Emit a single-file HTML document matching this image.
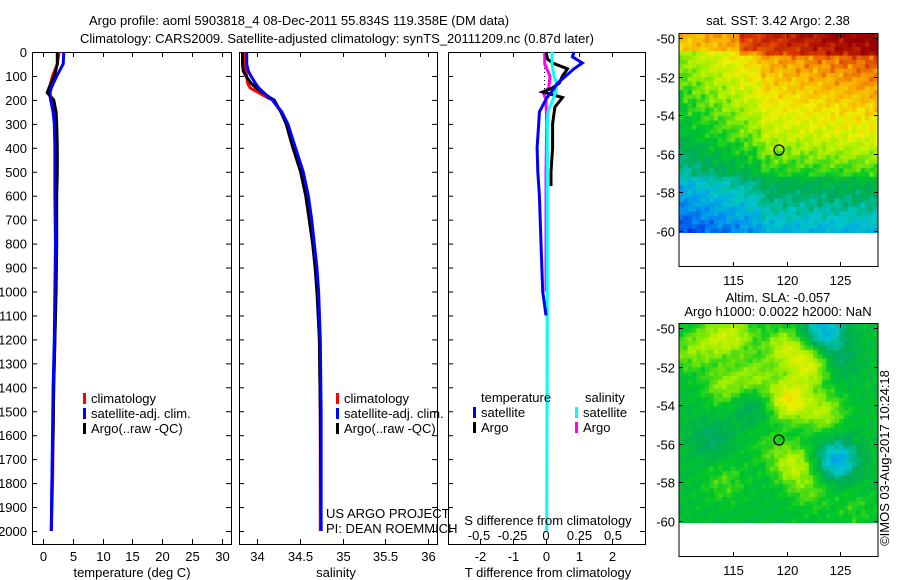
<!DOCTYPE html>
<html><head><meta charset="utf-8"><style>
html,body{margin:0;padding:0;background:#fff;}
#root{position:relative;width:900px;height:580px;overflow:hidden;font-family:"Liberation Sans",sans-serif;}
svg text{font-family:"Liberation Sans",sans-serif;font-size:13px;fill:#000;}
canvas{position:absolute;}
</style></head><body>
<div id="root">
<svg id="chart" width="900" height="580" style="position:absolute;left:0;top:0"></svg>
<canvas id="map1" width="199" height="199" style="left:679px;top:34px"></canvas>
<canvas id="map2" width="199" height="199" style="left:679px;top:324px"></canvas>
<svg id="overlay" width="900" height="580" style="position:absolute;left:0;top:0"></svg>
</div>
<script>
// ---- data ----
const depthT = [0,50,100,150,170,200,250,300,400,500,600,800,1000,1200,1400,1600,1800,2000];
const tempClim = [2.7,2.4,1.6,1.1,1.0,1.3,1.8,2.1,2.2,2.2,2.2,2.2,2.1,2.0,1.8,1.7,1.6,1.4];
const tempSat = [3.5,3.4,2.3,1.4,1.2,1.3,1.7,1.9,2.0,2.0,2.0,2.1,2.0,1.9,1.7,1.6,1.5,1.4];
const tempArgo = [2.4,2.4,1.9,1.0,0.7,1.8,2.2,2.3,2.4,2.4,2.3,2.3,2.2,2.0,1.8,1.7,1.5,1.4];
const depthS = [0,50,80,100,130,150,170,190,200,250,300,400,500,600,700,800,900,1000,1200,1500,2000];
const salClim = [33.86,33.86,33.87,33.88,33.89,33.92,34.02,34.12,34.18,34.28,34.35,34.44,34.53,34.59,34.63,34.66,34.69,34.71,34.73,34.74,34.74];
const salSat = [33.88,33.88,33.90,33.93,33.98,34.02,34.08,34.14,34.18,34.29,34.36,34.45,34.54,34.60,34.64,34.67,34.70,34.72,34.74,34.75,34.75];
const salArgo = [33.83,33.83,33.84,33.87,33.93,33.99,34.07,34.15,34.20,34.28,34.34,34.42,34.51,34.57,34.61,34.65,34.68,34.70,34.73,34.74,34.75];
const depthTD = [0,20,46,70,88,100,130,150,170,190,210,250,300,400,500,600,800,1000,1100];
const tdSat = [0.85,0.8,1.1,0.85,0.7,0.6,0.35,0.25,0.15,0.03,-0.05,-0.2,-0.22,-0.27,-0.25,-0.2,-0.15,-0.1,0];
const depthTDA = [0,30,46,70,100,130,150,167,190,230,300,400,500,560];
const tdArgo = [0,0.05,0.2,0.65,0.5,0.4,0.2,-0.1,0.5,0.27,0.2,0.2,0.15,0.15];
const depthSD = [0,50,100,130,170,200,250,300,500,1000,2000];
const sdSat = [0.045,0.045,0.06,0.08,0.07,0.05,0.015,0.01,0.01,0.01,0.005];
const depthSDA = [0,50,100,150,170,200,300,500,1000];
const sdArgo = [-0.01,-0.01,0.03,0.02,-0.02,0.0,0.005,0.0,0.0];
const depthTicks = [0,100,200,300,400,500,600,700,800,900,1000,1100,1200,1300,1400,1500,1600,1700,1800,1900,2000];
const tempTicks = [0,5,10,15,20,25,30];
const salTicks = [34,34.5,35,35.5,36];
const tdTicks = [-2,-1,0,1,2];
const sdTicks = [-0.5,-0.25,0,0.25,0.5];
const sdTickLabels = ["-0.5","-0.25","0","0.25","0.5"];

const NS='http://www.w3.org/2000/svg';
const svg=document.getElementById('chart');
function el(tag,attrs,parent,text){const e=document.createElementNS(NS,tag);for(const k in attrs)e.setAttribute(k,attrs[k]);if(text!==undefined)e.textContent=text;(parent||svg).appendChild(e);return e;}
const TOP=52,BOT=544;
const yD=d=>TOP+0.2395*d;
const P1={l:32,r:231},P2={l:239,r:437},P3={l:448,r:645};
const xT=v=>43+5.95*v;
const xS=v=>257+85.5*(v-34);
const xTD=v=>546+33*v;
const xSD=v=>546+134*v;

function frame(P,name){
  const g=el('g',{});
  
  
  el('rect',{x:P.l+.5,y:TOP+.5,width:P.r-P.l,height:BOT-TOP,fill:'none',stroke:'#000','stroke-width':1},g);
  depthTicks.forEach(d=>{const y=yD(d)+.5;
    el('line',{x1:P.l,x2:P.l+5,y1:y,y2:y,stroke:'#000'},g);
    el('line',{x1:P.r-5,x2:P.r,y1:y,y2:y,stroke:'#000'},g);});
  return g;
}
function xticks(g,ticks,fx,P,labels,ly){
  ticks.forEach((t,i)=>{const x=Math.round(fx(t))+.5;
    el('line',{x1:x,x2:x,y1:BOT-5,y2:BOT,stroke:'#000'},g);
    el('line',{x1:x,x2:x,y1:TOP,y2:TOP+5,stroke:'#000'},g);
    if(labels){const tx=el('text',{x:x,y:ly,'text-anchor':'middle'},g,labels[i]);
      
      }
  });
}
function line(xs,ds,fx,color,name,w){
  const pts=xs.map((v,i)=>fx(v).toFixed(1)+','+yD(ds[i]).toFixed(1)).join(' ');
  const p=el('polyline',{points:pts,fill:'none',stroke:color,'stroke-width':w||3,'stroke-linejoin':'miter'});
  
  
}
function legend(x,y,items){
  items.forEach((it,i)=>{
    const r=el('rect',{x:x,y:y+i*15-10,width:3,height:11,fill:it[0]});
    
    
    const t=el('text',{x:x+8,y:y+i*15},svg,it[1]);
    
    
  });
}
// titles
let t=el('text',{x:299,y:25,'text-anchor':'middle','font-size':'15'},svg,'Argo profile: aoml 5903818_4 08-Dec-2011 55.834S 119.358E (DM data)');


t=el('text',{x:337,y:43,'text-anchor':'middle','font-size':'15'},svg,'Climatology: CARS2009. Satellite-adjusted climatology: synTS_20111209.nc (0.87d later)');


// depth labels
depthTicks.forEach(d=>{const tx=el('text',{x:27,y:yD(d)+5,'text-anchor':'end'},svg,String(d));
  
  });
// panel 1
let g=frame(P1,'temperature-panel');
xticks(g,tempTicks,xT,P1,tempTicks.map(String),561);
line(tempClim,depthT,xT,'#f00','temp-climatology-line');
line(tempArgo,depthT,xT,'#000','temp-argo-line');
line(tempSat,depthT,xT,'#00f','temp-satellite-line');
t=el('text',{x:132,y:577,'text-anchor':'middle'},svg,'temperature (deg C)');


legend(83,403,[['#f00','climatology'],['#00f','satellite-adj. clim.'],['#000','Argo(..raw -QC)']]);
// panel 2
g=frame(P2,'salinity-panel');
xticks(g,salTicks,xS,P2,salTicks.map(String),561);
line(salClim,depthS,xS,'#f00','sal-climatology-line');
line(salArgo,depthS,xS,'#000','sal-argo-line');
line(salSat,depthS,xS,'#00f','sal-satellite-line');
t=el('text',{x:336,y:577,'text-anchor':'middle'},svg,'salinity');


legend(336,403,[['#f00','climatology'],['#00f','satellite-adj. clim.'],['#000','Argo(..raw -QC)']]);
t=el('text',{x:326,y:518},svg,'US ARGO PROJECT');


t=el('text',{x:326,y:533},svg,'PI: DEAN ROEMMICH');


// panel 3
g=frame(P3,'difference-panel');
xticks(g,tdTicks,xTD,P3,tdTicks.map(String),561);
sdTicks.forEach((v,i)=>{const tx=el('text',{x:xSD(v),y:540,'text-anchor':'middle'},svg,sdTickLabels[i]);
  
  });
el('line',{x1:544.5,x2:544.5,y1:TOP,y2:yD(180),stroke:'#000','stroke-dasharray':'1,3'});
line(sdArgo,depthSDA,xSD,'#f0f','s-diff-argo-line');
line(tdArgo,depthTDA,xTD,'#000','t-diff-argo-line');
line(sdSat,depthSD,xSD,'#0ff','s-diff-satellite-line');
line(tdSat,depthTD,xTD,'#00f','t-diff-satellite-line');
t=el('text',{x:548,y:525,'text-anchor':'middle'},svg,'S difference from climatology');


t=el('text',{x:548,y:577,'text-anchor':'middle'},svg,'T difference from climatology');


t=el('text',{x:481,y:402},svg,'temperature');


t=el('text',{x:585,y:402},svg,'salinity');


legend(473,417,[['#00f','satellite'],['#000','Argo']]);
legend(575,417,[['#0ff','satellite'],['#f0f','Argo']]);

// ---- maps ----
const cmapStops=[[0,0,0,170],[0.1,0,60,230],[0.2,0,150,240],[0.3,0,200,200],[0.4,0,170,90],[0.5,0,200,40],[0.6,160,240,0],[0.7,240,240,0],[0.8,250,170,0],[0.9,220,60,0],[1,150,0,0]];
function cmap(v){v=Math.max(0,Math.min(1,v));
  for(let k=1;k<cmapStops.length;k++){const a=cmapStops[k-1],b=cmapStops[k];
    if(v<=b[0]){const f=(v-a[0])/(b[0]-a[0]);
      return 'rgb('+Math.round(a[1]+f*(b[1]-a[1]))+','+Math.round(a[2]+f*(b[2]-a[2]))+','+Math.round(a[3]+f*(b[3]-a[3]))+')';}}
  return 'rgb(150,0,0)';}
function noise(i,j,s){return Math.sin(i*1.7+j*0.9+s)*0.4+Math.sin(i*0.6-j*2.3+s*2)*0.3+Math.sin(i*3.1+j*2.7+s*3)*0.2+Math.sin(i*5.3-j*4.1+s)*0.15;}
const N=46,cs=199/N;
function drawMap(id,fn){const c=document.getElementById(id).getContext('2d');
  for(let i=0;i<N;i++)for(let j=0;j<N;j++){c.fillStyle=cmap(fn(i,j));c.fillRect(j*cs,i*cs,cs+1,cs+1);}}
drawMap('map1',(i,j)=>{const tt=i/N,u=j/N;
  let v;
  if(tt<0.5) v=0.86-0.45*tt; else v=0.64-0.7*(tt-0.5);
  v+=0.12*(u-0.5)*(1-tt)*1.5;
  if(u<0.4&&tt>0.08) v-=0.1*(0.4-u)/0.4+0.04;
  if(tt<0.1&&u>0.3) v+=0.08;
  if(tt>0.7) v-=0.05;
  v+=0.06*noise(i,j,1); return v;});
const blobs=[[2,13,0.12],[3,8,0.12],[5,24,0.16],[9,30,0.2],[12,17,0.12],[17,25,0.24],[14,10,0.12],[20,33,0.14],[32,26,0.16],[6,2,0.1],[1,33,-0.22],[18,16,-0.08],[26,7,-0.08],[31,36,-0.24],[8,36,-0.08],[38,30,0.08],[36,10,0.07],[28,20,0.05],[42,40,0.05]];
drawMap('map2',(i,j)=>{let v=0.47+0.04*noise(i,j,2);
  blobs.forEach(b=>{const d2=((i-b[0])**2+(j-b[1])**2)/22; v+=b[2]*Math.exp(-d2);}); return v;});
const ov=document.getElementById('overlay');
function oel(tag,attrs,text){return el(tag,attrs,ov,text);}
function mapFrame(off,name,titles){
  const g=el('g',{},ov);
  
  
  el('rect',{x:679.5,y:off+233,width:198,height:33,fill:'#fff'},g);
  el('rect',{x:679,y:off+33.5,width:199,height:233,fill:'none',stroke:'#000'},g);
  for(let k=0;k<=5;k++){const y=Math.round(off+38+38.6*k)+.5;
    el('line',{x1:679,x2:683,y1:y,y2:y,stroke:'#000'},g);el('line',{x1:874,x2:878,y1:y,y2:y,stroke:'#000'},g);
    const tx=el('text',{x:675,y:y+5,'text-anchor':'end'},g,String(-50-2*k));
    
    }
  [115,120,125].forEach(lo=>{const x=Math.round(733+10.7*(lo-115))+.5;
    el('line',{x1:x,x2:x,y1:off+262,y2:off+266,stroke:'#000'},g);el('line',{x1:x,x2:x,y1:off+34,y2:off+38,stroke:'#000'},g);
    const tx=el('text',{x:x,y:off+285,'text-anchor':'middle'},g,String(lo));
    
    });
  const c=el('circle',{cx:779,cy:off+150,r:5,fill:'none',stroke:'#000','stroke-width':1.2},g);
  
  
  titles.forEach(tl=>{const tx=el('text',{x:tl[0],y:tl[1],'text-anchor':'middle'},g,tl[2]);
    
    });
}
mapFrame(0,'sst-map-frame',[[778,25,'sat. SST: 3.42 Argo: 2.38']]);
mapFrame(290,'sla-map-frame',[[778,302,'Altim. SLA: -0.057'],[778,316,'Argo h1000: 0.0022 h2000: NaN']]);
t=oel('text',{x:889,y:458,'text-anchor':'middle',transform:'rotate(-90 889 458)'},'©IMOS 03-Aug-2017 10:24:18');


</script>
</body></html>
